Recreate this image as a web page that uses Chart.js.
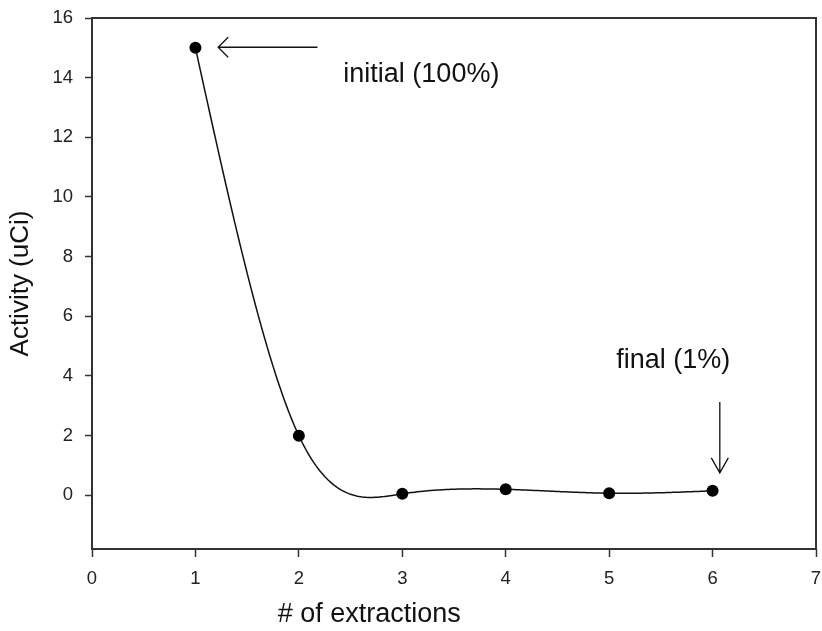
<!DOCTYPE html>
<html><head><meta charset="utf-8">
<script src="https://cdn.jsdelivr.net/npm/chart.js@4/dist/chart.umd.min.js"></script>
<style>html,body{margin:0;padding:0;background:#fff}#wrap{width:822px;height:631px}</style>
</head><body><div id="wrap"><canvas id="c" width="822" height="631"></canvas></div>
<script>
// ---- data ----
const extractions = [1, 2, 3, 4, 5, 6];
const activity = [15, 2, 0.05, 0.2, 0.07, 0.15];
const xTickValues = [0, 1, 2, 3, 4, 5, 6, 7];
const yTickValues = [0, 2, 4, 6, 8, 10, 12, 14, 16];
const xTitle = '# of extractions';
const yTitle = 'Activity (uCi)';
const noteTexts = ['initial (100%)', 'final (1%)'];

// ---- annotation placement (data coordinates) ----
const annot = {
  initialArrow: {from: [2.18, 15.02], to: [1.22, 15.02], dir: 'left'},
  initialText: {at: [2.43, 13.85], align: 'left'},
  finalArrow: {from: [6.07, 3.13], to: [6.07, 0.75], dir: 'down'},
  finalText: {at: [5.62, 4.27], align: 'center'},
  xTitle: {atX: 2.68, y: 622}
};

const FONT = "'Liberation Sans', Arial, sans-serif";
const INK = '#111';
const AXIS = '#333';

function naturalSpline(xs, ys) {
  const n = xs.length;
  const h = [];
  for (let i = 0; i < n - 1; i++) h.push(xs[i + 1] - xs[i]);
  const M = new Array(n).fill(0);
  if (n > 2) {
    const a = [], b = [], c = [], d = [];
    for (let i = 1; i < n - 1; i++) {
      a.push(h[i - 1]); b.push(2 * (h[i - 1] + h[i])); c.push(h[i]);
      d.push(6 * ((ys[i + 1] - ys[i]) / h[i] - (ys[i] - ys[i - 1]) / h[i - 1]));
    }
    const m = b.length;
    for (let i = 1; i < m; i++) {
      const w = a[i] / b[i - 1];
      b[i] -= w * c[i - 1]; d[i] -= w * d[i - 1];
    }
    const sol = new Array(m);
    sol[m - 1] = d[m - 1] / b[m - 1];
    for (let i = m - 2; i >= 0; i--) sol[i] = (d[i] - c[i] * sol[i + 1]) / b[i];
    for (let i = 0; i < m; i++) M[i + 1] = sol[i];
  }
  return function (x) {
    let i = 0;
    while (i < n - 2 && x > xs[i + 1]) i++;
    const hi = h[i], t1 = xs[i + 1] - x, t0 = x - xs[i];
    return M[i] * t1 * t1 * t1 / (6 * hi) + M[i + 1] * t0 * t0 * t0 / (6 * hi)
      + (ys[i] / hi - M[i] * hi / 6) * t1 + (ys[i + 1] / hi - M[i + 1] * hi / 6) * t0;
  };
}

const splinePlugin = {
  id: 'spline',
  beforeDatasetsDraw(chart) {
    const {ctx, scales: {x, y}} = chart;
    const f = naturalSpline(extractions, activity);
    const x0 = extractions[0], x1 = extractions[extractions.length - 1];
    const steps = 300;
    ctx.save();
    ctx.beginPath();
    for (let k = 0; k <= steps; k++) {
      const xv = x0 + (x1 - x0) * k / steps;
      const px = x.getPixelForValue(xv), py = y.getPixelForValue(f(xv));
      if (k === 0) ctx.moveTo(px, py); else ctx.lineTo(px, py);
    }
    ctx.lineWidth = 1.5;
    ctx.strokeStyle = INK;
    ctx.stroke();
    ctx.restore();
  }
};

const framePlugin = {
  id: 'frame',
  afterDraw(chart) {
    const {ctx, chartArea: a, scales: {x, y}} = chart;
    ctx.save();
    ctx.strokeStyle = AXIS;
    ctx.lineWidth = 2;
    ctx.strokeRect(a.left, a.top, a.right - a.left, a.bottom - a.top);

    // arrows
    ctx.strokeStyle = INK;
    ctx.lineWidth = 1.3;
    function arrow(spec) {
      const fx = x.getPixelForValue(spec.from[0]), fy = y.getPixelForValue(spec.from[1]);
      const tx = x.getPixelForValue(spec.to[0]), ty = y.getPixelForValue(spec.to[1]);
      ctx.beginPath();
      ctx.moveTo(fx, fy); ctx.lineTo(tx, ty);
      if (spec.dir === 'left') {
        ctx.moveTo(tx + 10, ty - 10); ctx.lineTo(tx, ty); ctx.lineTo(tx + 10, ty + 10);
      } else {
        ctx.moveTo(tx - 8.5, ty - 15); ctx.lineTo(tx, ty); ctx.lineTo(tx + 8.5, ty - 15);
      }
      ctx.stroke();
    }
    arrow(annot.initialArrow);
    arrow(annot.finalArrow);

    ctx.fillStyle = INK;
    ctx.font = '27px ' + FONT;
    ctx.textBaseline = 'alphabetic';
    ctx.textAlign = annot.initialText.align;
    ctx.fillText(noteTexts[0], x.getPixelForValue(annot.initialText.at[0]), y.getPixelForValue(annot.initialText.at[1]));
    ctx.textAlign = annot.finalText.align;
    ctx.fillText(noteTexts[1], x.getPixelForValue(annot.finalText.at[0]), y.getPixelForValue(annot.finalText.at[1]));

    // x-axis title (offset to the left as in the original)
    ctx.textAlign = 'center';
    ctx.fillText(xTitle, x.getPixelForValue(annot.xTitle.atX), annot.xTitle.y);
    ctx.restore();
  }
};

new Chart(document.getElementById('c'), {
  type: 'scatter',
  data: {
    datasets: [{
      data: extractions.map((v, i) => ({x: v, y: activity[i]})),
      showLine: false,
      pointRadius: 6,
      pointHoverRadius: 6,
      pointBackgroundColor: '#000',
      pointBorderColor: '#000',
      pointBorderWidth: 0
    }]
  },
  options: {
    responsive: false,
    animation: false,
    events: [],
    layout: {padding: {left: 0, top: 18, right: 6, bottom: 0}},
    plugins: {legend: {display: false}, tooltip: {enabled: false}},
    scales: {
      x: {
        type: 'linear', min: 0, max: 7,
        afterBuildTicks: s => { s.ticks = xTickValues.map(v => ({value: v})); },
        afterFit: s => { s.height = 82; s.paddingLeft = 0; s.paddingRight = 0; },
        border: {display: false},
        grid: {display: true, drawOnChartArea: false, drawTicks: true, tickLength: 8, tickColor: AXIS, tickWidth: 1.5},
        ticks: {color: '#222', padding: 11, font: {family: FONT, size: 18.5}, maxRotation: 0},
        title: {display: false}
      },
      y: {
        type: 'linear', min: -1.8, max: 16,
        afterBuildTicks: s => { s.ticks = yTickValues.map(v => ({value: v})); },
        afterFit: s => { s.width = 92; s.paddingTop = 0; s.paddingBottom = 0; },
        border: {display: false},
        grid: {display: true, drawOnChartArea: false, drawTicks: true, tickLength: 7, tickColor: AXIS, tickWidth: 1.5},
        ticks: {color: '#222', padding: 12, font: {family: FONT, size: 18.5}},
        title: {display: true, text: yTitle, color: INK, font: {family: FONT, size: 26, lineHeight: 1.2}, padding: {top: 5, bottom: 5}}
      }
    }
  },
  plugins: [splinePlugin, framePlugin]
});
</script>
</body></html>
